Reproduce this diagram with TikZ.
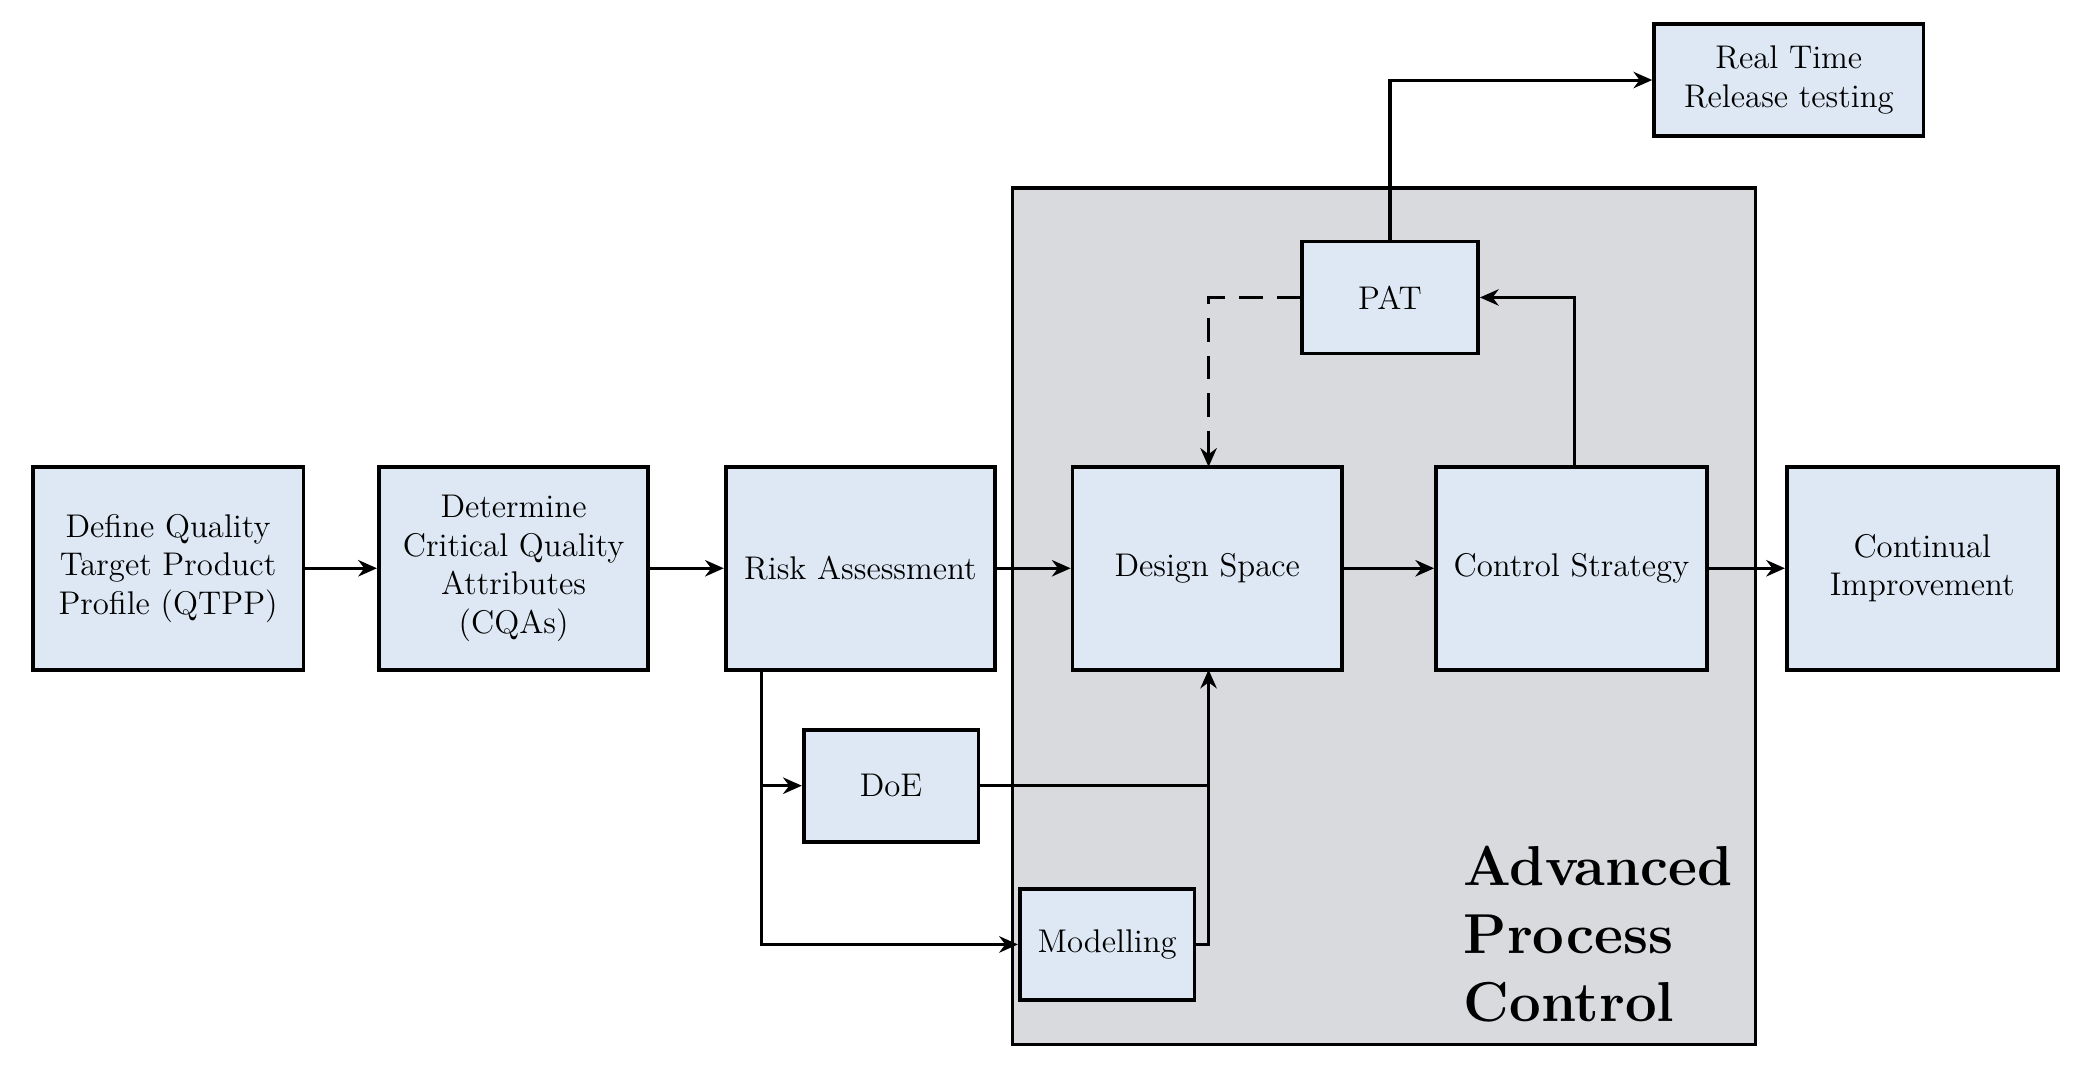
\documentclass[tikz,border=0pt]{standalone}
\usetikzlibrary{arrows.meta}
\begin{document}
\begin{tikzpicture}[x=0.02cm,y=-0.02cm,
 box/.style={draw=black,line width=1.6pt,fill=blue!4!cyan!8!white,fill=bxf,align=center,inner sep=0pt,font=\fontsize{14}{16.5}\selectfont},
 arr/.style={line width=1.3pt,-{Stealth[length=8pt,width=7pt]}},
 ln/.style={line width=1.3pt}]
\definecolor{bxf}{HTML}{DDE8F4}
\definecolor{gr}{HTML}{D9DADE}
\useasboundingbox (0,0) rectangle (1560,807);
\node[draw=black,line width=1.6pt,fill=gr,minimum width=557*0.02cm,minimum height=642*0.02cm,inner sep=0pt] (apc) at (1037.5,462) {};
\node[anchor=north west,align=left,font=\fontsize{24}{29}\selectfont\bfseries,inner sep=0pt] (apct) at (1097,634) {Advanced\\Process\\Control};
\def\B#1#2#3#4#5{\node[box,minimum width=#4*0.02cm,minimum height=#5*0.02cm] (#1) at #2 {#3};}
\B{q}{(126,426)}{Define Quality\\Target Product\\Profile (QTPP)}{203}{152}
\B{c}{(385,426)}{Determine\\Critical Quality\\Attributes\\(CQAs)}{202}{152}
\B{r}{(645,426)}{Risk Assessment}{202}{152}
\B{d}{(905,426)}{Design Space}{202}{152}
\B{cs}{(1178,426)}{Control Strategy}{203}{152}
\B{ci}{(1441,426)}{Continual\\Improvement}{203}{152}
\B{pat}{(1042,223)}{PAT}{132}{84}
\B{rt}{(1341,60)}{Real Time\\Release testing}{202}{84}
\B{doe}{(668,589)}{DoE}{131}{84}
\B{m}{(830,708)}{Modelling}{131}{83}
\draw[arr] (q) -- (c);
\draw[arr] (c) -- (r);
\draw[arr] (r) -- (d);
\draw[arr] (d) -- (cs);
\draw[arr] (cs) -- (ci);
\coordinate (rb) at (571,502);
\coordinate (rbm) at (571,708);
\draw[arr] (rb) -- (rbm) -- (m.west);
\draw[arr] (571,589) -- (doe.west);
\draw[ln] (doe.east) -- (906,589);
\draw[ln] (m.east) -- (906,708) -- (906,589);
\draw[arr] (906,589) -- (906,502);
\draw[arr] (1180,350) |- (pat.east);
\draw[arr,dashed,dash pattern=on 10pt off 6pt] (pat.west) -| (906,350);
\draw[arr] (pat.north) |- (rt.west);
\end{tikzpicture}
\end{document}
